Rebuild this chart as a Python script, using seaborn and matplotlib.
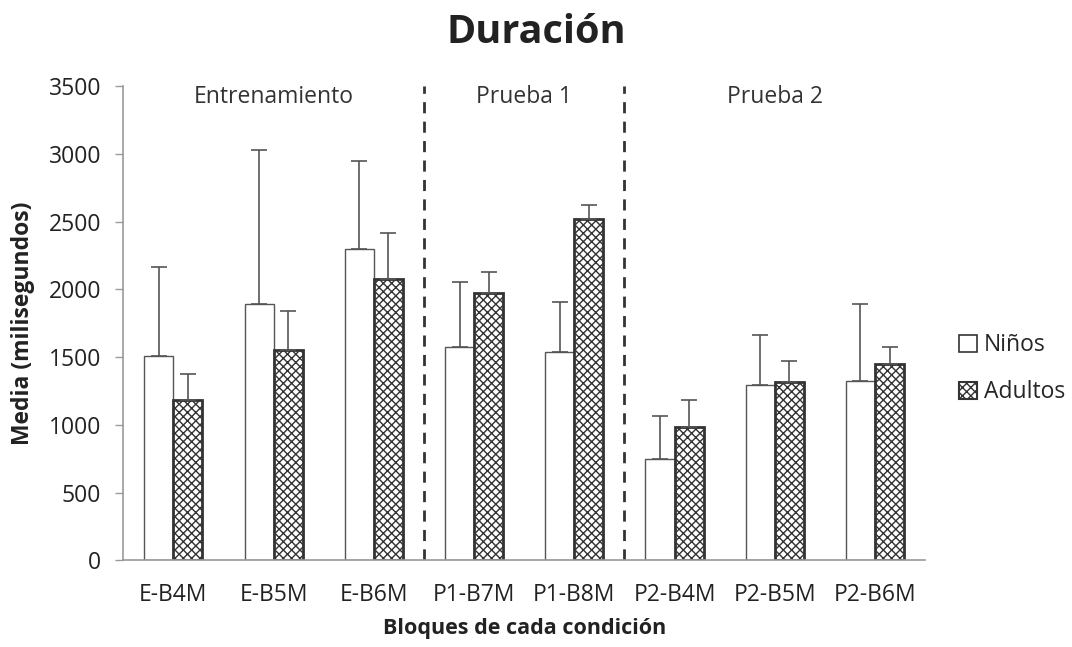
import numpy as np
import pandas as pd
import matplotlib
matplotlib.use("Agg")
import matplotlib.pyplot as plt
import seaborn as sns
from matplotlib.patches import Patch

# --- Data ---
bloques = ["E-B4M", "E-B5M", "E-B6M", "P1-B7M", "P1-B8M", "P2-B4M", "P2-B5M", "P2-B6M"]
grupos = ["Niños", "Adultos"]
media_ninos = [1510, 1895, 2295, 1575, 1535, 745, 1295, 1320]
media_adultos = [1180, 1550, 2075, 1975, 2520, 985, 1315, 1450]
de_ninos = [655, 1130, 655, 480, 370, 320, 365, 570]
de_adultos = [195, 290, 340, 150, 105, 195, 155, 125]
fases = ["Entrenamiento", "Prueba 1", "Prueba 2"]
fase_centro = [1, 3.5, 6]
separadores = [2.5, 4.5]

df = pd.DataFrame({
    "bloque": bloques * 2,
    "grupo": ["Niños"] * len(bloques) + ["Adultos"] * len(bloques),
    "media": media_ninos + media_adultos,
    "de": de_ninos + de_adultos,
})

sns.set_style("white")
plt.rcParams["font.family"] = ["Open Sans", "DejaVu Sans"]
plt.rcParams["hatch.color"] = "#333333"

fig = plt.figure(figsize=(10.72, 6.47), dpi=100)
ax = fig.add_axes([0.115, 0.134, 0.748, 0.733])

sns.barplot(data=df, x="bloque", y="media", hue="grupo", hue_order=grupos,
            order=bloques, width=0.58, gap=0, errorbar=None, ax=ax,
            palette=["white", "white"], legend=False)

n = len(bloques)
for i, p in enumerate(ax.patches[:2 * n]):
    row = df.iloc[i]
    if row["grupo"] == "Adultos":
        p.set_hatch("xxxx")
        p.set_edgecolor("#333333")
        p.set_linewidth(2.0)
    else:
        p.set_edgecolor("#555555")
        p.set_linewidth(1.0)
    xc = p.get_x() + p.get_width() / 2
    ax.errorbar(xc, row["media"], yerr=[[0], [row["de"]]], fmt="none",
                ecolor="#555555", elinewidth=1.2, capsize=6, capthick=1.2, zorder=1)

# lineas que separan las fases
for s in separadores:
    ax.axvline(s, color="#333333", linestyle=(0, (4, 3)), linewidth=2.0)

for f, c in zip(fases, fase_centro):
    ax.text(c, 3420, f, ha="center", va="center", fontsize=16.5, color="#333333")

ax.set_ylim(0, 3500)
ax.set_xlim(-0.5, n - 0.5)
ax.set_yticks(np.arange(0, 3501, 500))
ax.tick_params(axis="y", labelsize=16.5, colors="#222222", length=6, width=1,
               direction="out", left=True, color="#999999", pad=10)
ax.tick_params(axis="x", labelsize=16.5, colors="#222222", length=0, pad=16)
for sp in ["top", "right"]:
    ax.spines[sp].set_visible(False)
for sp in ["left", "bottom"]:
    ax.spines[sp].set_color("#999999")
    ax.spines[sp].set_linewidth(1.2)

ax.set_ylabel("Media (milisegundos)", fontsize=16.5, fontweight="bold", color="#222222",
              labelpad=10)
ax.set_xlabel("Bloques de cada condición", fontsize=15.5, fontweight="bold",
              color="#222222", labelpad=8)
fig.suptitle("Duración", fontsize=28.5, fontweight="bold", color="#222222", y=0.98)

handles = [Patch(facecolor="white", edgecolor="#333333", linewidth=1.2, label="Niños"),
           Patch(facecolor="white", edgecolor="#333333", hatch="xxxx", linewidth=1.5, label="Adultos")]
fig.legend(handles=handles, loc="center left", bbox_to_anchor=(0.875, 0.43),
           frameon=False, fontsize=16.5, handlelength=0.8, handleheight=0.8,
           handletextpad=0.3, labelspacing=1.0)

fig.savefig("out.png", dpi=100)
